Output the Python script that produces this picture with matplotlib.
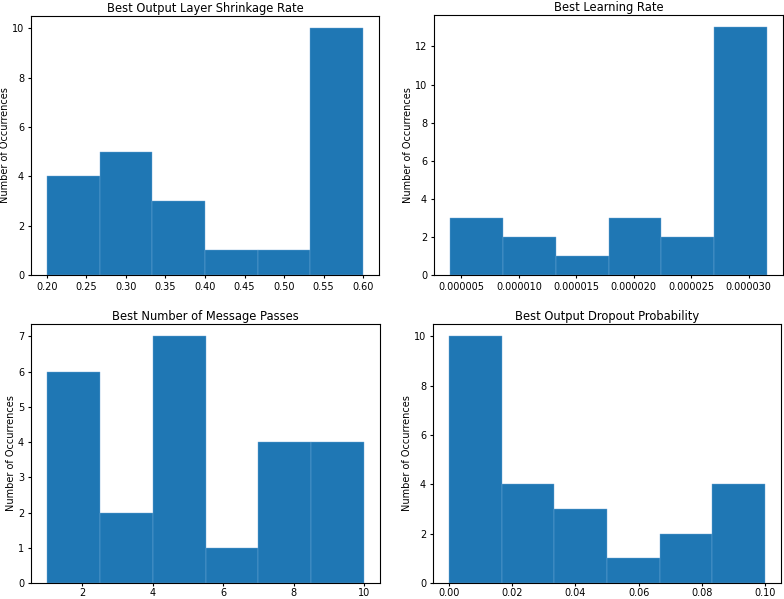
import matplotlib
matplotlib.use("Agg")
import matplotlib.pyplot as plt
from matplotlib.ticker import FormatStrFormatter
import numpy as np

# Data: bin edges and counts for each histogram
shrink_edges = np.linspace(0.2, 0.6, 7)
shrink_counts = [4, 5, 3, 1, 1, 10]

lr_edges = np.linspace(4.0e-6, 3.16e-5, 7)
lr_counts = [3, 2, 1, 3, 2, 13]

passes_edges = np.linspace(1, 10, 7)
passes_counts = [6, 2, 7, 1, 4, 4]

dropout_edges = np.linspace(0.0, 0.1, 7)
dropout_counts = [10, 4, 3, 1, 2, 4]

titles = ["Best Output Layer Shrinkage Rate", "Best Learning Rate",
          "Best Number of Message Passes", "Best Output Dropout Probability"]
ylabel = "Number of Occurrences"

fig = plt.figure(figsize=(7.84, 5.99), dpi=100)
W, H = 784, 599
boxes = [(31, 16, 379, 275), (434, 15, 783, 275), (31, 324, 380, 583), (433, 324, 781, 583)]
data = [(shrink_edges, shrink_counts), (lr_edges, lr_counts),
        (passes_edges, passes_counts), (dropout_edges, dropout_counts)]

for i, ((l, t, r, b), (edges, counts), title) in enumerate(zip(boxes, data, titles)):
    ax = fig.add_axes([l / W, 1 - b / H, (r - l) / W, (b - t) / H])
    edges = np.asarray(edges)
    ax.hist(edges[:-1], bins=edges, weights=counts, color="#1f77b4",
            edgecolor="#6fa8d6", linewidth=0.3)
    ax.set_title(title, fontsize=8.3, pad=3)
    ax.set_ylabel(ylabel, fontsize=7, labelpad=1)
    ax.tick_params(labelsize=7, length=2.5, width=0.8, pad=2.5)
    if i >= 2:
        ax.tick_params(axis="x", pad=1.2)
    for s in ax.spines.values():
        s.set_linewidth(0.8)
    if title == "Best Learning Rate":
        ax.xaxis.set_major_formatter(FormatStrFormatter("%.6f"))
        ax.set_xticks([5e-6, 1e-5, 1.5e-5, 2e-5, 2.5e-5, 3e-5])
    if title == "Best Output Layer Shrinkage Rate":
        ax.xaxis.set_major_formatter(FormatStrFormatter("%.2f"))
    if title == "Best Output Dropout Probability":
        ax.xaxis.set_major_formatter(FormatStrFormatter("%.2f"))

fig.savefig("out.png", dpi=100)
